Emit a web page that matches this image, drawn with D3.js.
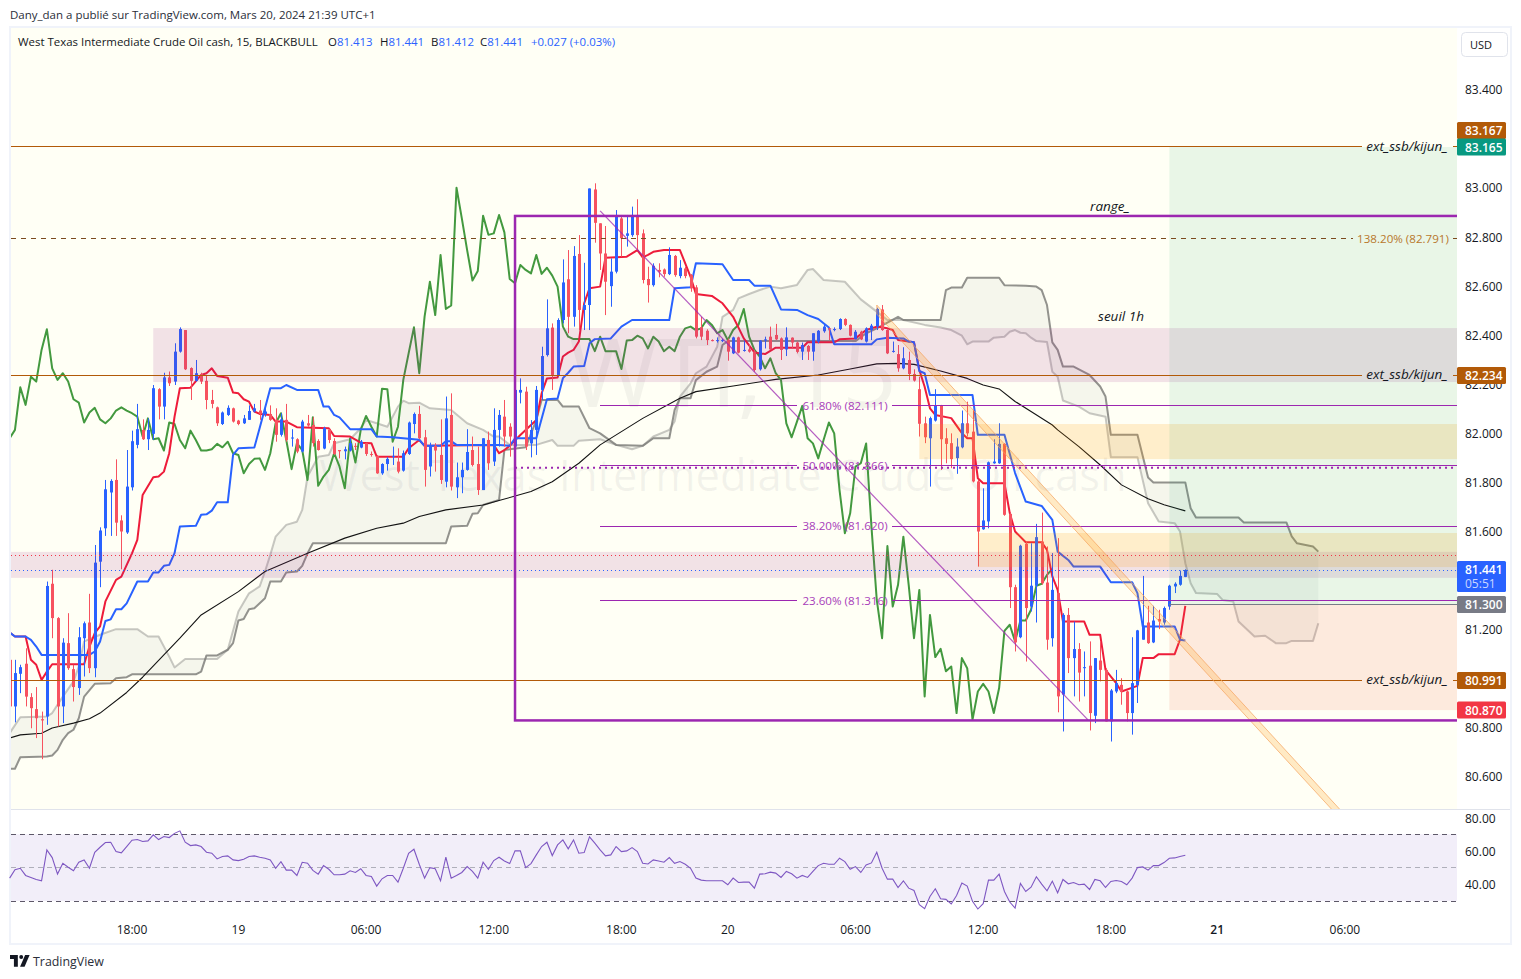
<!DOCTYPE html>
<html>
<head>
<meta charset="utf-8">
<script src="https://cdnjs.cloudflare.com/ajax/libs/d3/7.8.5/d3.min.js"></script>
<style>
  body { margin: 0; background: #fff; }
  text { font-family: "Open Sans", "Noto Sans", sans-serif; }
</style>
</head>
<body>
<div id="chart"></div>
<script>
// candles, one entry per 15 min bar
const opens = [
  81.075,80.885,81.018,81.059,80.923,80.874,80.833,80.844,81.385,81.245,
  80.885,81.143,81.037,80.960,81.163,81.227,81.041,81.475,81.611,81.757,
  81.808,81.643,81.594,81.778,81.951,82.012,81.974,81.996,82.178,82.107,
  82.226,82.209,82.331,82.419,82.264,82.212,82.240,82.212,82.134,82.104,
  82.036,82.073,82.100,82.050,82.039,82.053,82.087,82.091,82.076,82.077,
  82.053,81.992,82.053,81.977,81.974,81.924,82.039,82.032,81.967,81.936,
  82.012,81.967,81.930,81.925,81.928,81.947,81.940,81.958,81.914,81.906,
  81.835,81.873,81.903,81.883,81.846,81.914,82.036,82.077,81.982,81.863,
  81.947,81.910,81.801,82.073,81.778,81.819,81.849,81.930,81.873,81.767,
  81.971,81.883,82.012,82.066,82.025,81.944,82.164,82.168,81.957,82.012,
  82.175,82.317,82.429,82.236,82.460,82.626,82.473,82.729,82.501,82.521,
  82.992,82.854,82.731,82.598,82.657,82.874,82.803,82.806,82.888,82.813,
  82.627,82.602,82.664,82.666,82.647,82.721,82.639,82.670,82.643,82.593,
  82.430,82.416,82.378,82.376,82.376,82.378,82.324,82.389,82.336,82.340,
  82.331,82.259,82.376,82.392,82.399,82.385,82.340,82.388,82.368,82.331,
  82.354,82.331,82.372,82.414,82.426,82.421,82.423,82.464,82.440,82.382,
  82.412,82.372,82.419,82.433,82.503,82.419,82.331,82.321,82.263,82.297,
  82.240,82.178,82.039,81.978,82.050,82.110,81.978,81.958,81.897,81.941,
  82.039,82.005,81.802,81.607,81.639,81.876,81.876,81.955,81.670,81.371,
  81.167,81.548,81.292,81.377,81.557,81.390,81.163,81.347,80.933,81.258,
  81.082,81.119,81.042,81.051,80.847,81.072,81.034,80.824,80.946,80.973,
  80.946,80.858,80.973,81.157,81.227,81.146,81.241,81.227,81.292,81.374,
  81.381,81.413
];
const closes = [
  80.885,81.021,81.045,80.925,80.878,80.837,80.828,81.376,81.245,80.885,
  81.145,81.041,80.964,81.167,81.224,81.041,81.471,81.602,81.770,81.804,
  81.634,81.598,81.781,81.966,82.015,81.974,82.012,82.182,82.107,82.226,
  82.202,82.331,82.423,82.259,82.212,82.243,82.209,82.134,82.118,82.039,
  82.083,82.102,82.046,82.036,82.059,82.089,82.100,82.077,82.087,82.053,
  81.992,82.055,81.971,81.981,81.924,82.046,82.030,81.958,81.930,82.019,
  81.971,81.914,81.925,81.933,81.958,81.943,81.964,81.914,81.910,81.835,
  81.873,81.894,81.906,81.842,81.917,82.042,82.077,81.978,81.849,81.947,
  81.928,81.808,82.059,81.781,81.819,81.849,81.922,81.869,81.767,81.978,
  81.876,82.012,82.073,81.985,81.985,82.175,82.175,81.944,82.012,82.175,
  82.313,82.426,82.236,82.460,82.613,82.473,82.721,82.501,82.521,82.996,
  82.856,82.731,82.616,82.657,82.888,82.793,82.813,82.888,82.806,82.623,
  82.602,82.681,82.657,82.647,82.725,82.643,82.673,82.639,82.589,82.392,
  82.392,82.378,82.376,82.378,82.378,82.331,82.389,82.327,82.338,82.331,
  82.256,82.376,82.381,82.340,82.381,82.338,82.389,82.368,82.330,82.358,
  82.331,82.406,82.416,82.433,82.422,82.423,82.464,82.440,82.396,82.412,
  82.381,82.426,82.437,82.505,82.419,82.324,82.334,82.263,82.304,82.240,
  82.213,82.037,81.982,82.060,82.110,81.974,81.955,81.893,81.944,82.039,
  81.998,81.802,81.598,81.643,81.880,81.883,81.955,81.666,81.371,81.146,
  81.540,81.286,81.377,81.575,81.387,81.157,81.360,80.926,81.258,81.082,
  81.119,81.023,81.045,80.858,81.082,81.034,80.824,80.950,80.980,80.946,
  80.858,80.980,81.195,81.214,81.143,81.235,81.231,81.286,81.377,81.385,
  81.417,81.441
];
const highs = [
  81.116,81.075,81.055,81.122,80.939,80.964,80.864,81.394,81.442,81.249,
  81.163,81.265,81.055,81.208,81.231,81.344,81.543,81.615,81.808,81.811,
  81.892,81.664,81.930,82.009,82.118,82.055,82.059,82.195,82.182,82.245,
  82.250,82.365,82.430,82.419,82.267,82.297,82.245,82.232,82.175,82.107,
  82.087,82.112,82.103,82.053,82.073,82.112,82.118,82.134,82.114,82.112,
  82.100,82.080,82.118,82.015,81.978,82.053,82.073,82.064,81.974,82.025,
  82.017,81.978,81.930,81.944,81.978,81.958,81.971,81.960,81.924,81.910,
  81.876,81.901,81.944,81.937,81.928,82.046,82.083,82.110,82.012,81.960,
  81.958,82.055,82.148,82.161,81.879,81.879,82.015,81.985,81.944,81.978,
  82.005,82.100,82.093,82.134,82.039,82.182,82.222,82.188,82.052,82.191,
  82.351,82.544,82.446,82.467,82.707,82.745,82.761,82.806,82.693,82.996,
  83.017,82.854,82.843,82.711,82.908,82.888,82.888,82.922,82.952,82.829,
  82.677,82.691,82.691,82.670,82.756,82.725,82.704,82.677,82.647,82.602,
  82.473,82.422,82.381,82.389,82.384,82.385,82.392,82.392,82.376,82.358,
  82.338,82.378,82.392,82.433,82.444,82.389,82.430,82.389,82.372,82.368,
  82.358,82.406,82.419,82.440,82.429,82.430,82.467,82.467,82.442,82.419,
  82.416,82.430,82.444,82.510,82.521,82.422,82.372,82.358,82.349,82.331,
  82.259,82.229,82.066,82.066,82.178,82.114,82.019,81.998,81.978,82.091,
  82.127,82.094,81.808,81.774,81.883,81.974,82.039,81.958,81.673,81.381,
  81.544,81.557,81.550,81.629,81.675,81.537,81.510,81.571,81.265,81.286,
  81.231,81.143,81.109,81.150,81.082,81.150,81.041,80.956,81.034,81.000,
  80.950,81.167,81.197,81.417,81.295,81.295,81.279,81.292,81.381,81.391,
  81.439,81.444
];
const lows = [
  80.851,80.820,80.939,80.885,80.796,80.756,80.670,80.810,81.163,80.803,
  80.817,81.034,80.905,80.932,81.007,81.021,81.004,81.371,81.580,81.580,
  81.580,81.444,81.588,81.765,81.937,81.971,81.930,81.971,82.055,82.055,
  82.191,82.195,82.327,82.256,82.134,82.209,82.199,82.096,82.100,82.028,
  82.032,82.069,82.042,82.031,82.036,82.053,82.083,82.053,82.066,82.049,
  81.964,81.985,81.964,81.944,81.917,81.920,82.025,81.944,81.928,81.933,
  81.958,81.910,81.896,81.892,81.924,81.930,81.937,81.906,81.903,81.833,
  81.829,81.846,81.869,81.835,81.842,81.910,81.998,81.974,81.781,81.822,
  81.842,81.792,81.778,81.765,81.734,81.754,81.846,81.863,81.747,81.767,
  81.849,81.865,81.944,81.944,81.903,81.903,82.120,81.930,81.900,81.910,
  82.134,82.311,82.175,82.229,82.446,82.406,82.433,82.419,82.419,82.419,
  82.775,82.664,82.480,82.514,82.650,82.718,82.759,82.799,82.745,82.609,
  82.531,82.596,82.634,82.636,82.643,82.636,82.630,82.630,82.575,82.385,
  82.378,82.358,82.373,82.368,82.370,82.294,82.321,82.324,82.331,82.327,
  82.249,82.254,82.344,82.338,82.378,82.297,82.313,82.344,82.324,82.297,
  82.297,82.294,82.365,82.408,82.378,82.414,82.419,82.435,82.393,82.381,
  82.378,82.368,82.378,82.419,82.416,82.321,82.327,82.249,82.259,82.215,
  82.209,81.985,81.958,81.781,82.046,81.849,81.876,81.856,81.833,81.937,
  81.985,81.798,81.455,81.605,81.611,81.874,81.874,81.662,81.286,81.109,
  81.163,81.068,81.272,81.227,81.381,81.116,81.129,80.861,80.783,81.021,
  80.926,80.905,80.926,80.787,80.817,80.987,80.824,80.742,80.939,80.892,
  80.824,80.770,80.899,81.157,81.140,81.143,81.200,81.218,81.279,81.347,
  81.377,81.412
];

// ichimoku, read at the bars where the line turns: [bar, price]
const kijun = [
  [0,81.186],[1,81.170],[3,81.170],[4,81.156],[5,81.129],[6,81.095],[15,81.095],[16,81.109],[17,81.150],[18,81.233],
  [19,81.240],[20,81.281],[21,81.281],[22,81.305],[24,81.394],[26,81.394],[27,81.431],[28,81.431],[29,81.458],[30,81.462],
  [31,81.510],[32,81.618],[35,81.621],[36,81.666],[37,81.668],[38,81.683],[39,81.717],[41,81.717],[42,81.910],[43,81.937],
  [46,81.940],[47,82.020],[48,82.100],[49,82.182],[51,82.182],[52,82.195],[54,82.175],[58,82.175],[59,82.107],[60,82.107],
  [61,82.073],[62,82.063],[64,82.015],[68,82.015],[69,81.985],[72,81.982],[76,81.974],[77,81.972],[78,81.947],[81,81.947],
  [82,81.966],[83,81.966],[84,81.951],[92,81.950],[94,81.947],[95,81.978],[99,81.978],[101,82.137],[103,82.140],[104,82.223],
  [105,82.245],[106,82.270],[108,82.272],[109,82.365],[110,82.382],[113,82.385],[115,82.433],[117,82.460],[124,82.460],[125,82.589],
  [128,82.593],[129,82.691],[134,82.687],[136,82.623],[139,82.623],[140,82.600],[143,82.600],[145,82.503],[148,82.501],[150,82.480],
  [152,82.464],[154,82.429],[155,82.361],[162,82.361],[163,82.381],[165,82.388],[168,82.385],[169,82.372],[170,82.369],[171,82.252],
  [172,82.243],[173,82.154],[181,82.154],[182,81.992],[187,81.992],[189,81.836],[191,81.720],[194,81.702],[196,81.645],[197,81.516],
  [199,81.482],[200,81.455],[205,81.455],[207,81.391],[211,81.391],[212,81.347],[213,81.211],[219,81.211],[220,81.157],[221,81.154]
];
const tenkan = [
  [0,81.186],[1,81.170],[3,81.170],[4,81.075],[5,81.055],[6,80.993],[7,81.027],[8,81.057],[14,81.057],[15,81.129],
  [16,81.184],[17,81.211],[18,81.313],[20,81.401],[21,81.414],[23,81.509],[24,81.564],[25,81.747],[27,81.819],[28,81.822],
  [29,81.842],[30,81.917],[31,82.066],[32,82.182],[34,82.184],[36,82.236],[37,82.243],[38,82.263],[39,82.232],[41,82.225],
  [42,82.164],[43,82.161],[44,82.137],[45,82.127],[46,82.087],[47,82.077],[49,82.073],[50,82.046],[52,82.046],[54,82.023],
  [60,82.019],[61,81.987],[64,81.985],[66,81.960],[68,81.958],[69,81.903],[74,81.903],[75,81.937],[77,81.971],[78,81.947],
  [91,81.951],[92,81.917],[93,81.930],[94,81.947],[96,81.991],[98,82.032],[99,82.052],[100,82.161],[101,82.222],[103,82.226],
  [104,82.311],[105,82.327],[106,82.338],[107,82.372],[108,82.528],[109,82.589],[111,82.596],[112,82.714],[116,82.718],[118,82.745],
  [119,82.715],[120,82.725],[121,82.738],[123,82.745],[126,82.745],[128,82.636],[129,82.566],[132,82.558],[134,82.528],[136,82.473],
  [138,82.385],[140,82.328],[142,82.321],[144,82.347],[149,82.347],[150,82.369],[155,82.369],[156,82.381],[159,82.385],[161,82.419],
  [163,82.433],[165,82.426],[166,82.419],[167,82.378],[170,82.369],[171,82.256],[172,82.188],[173,82.100],[174,82.073],[177,82.060],
  [179,81.999],[180,81.978],[181,81.978],[182,81.815],[183,81.795],[187,81.795],[188,81.673],[189,81.598],[191,81.554],[194,81.554],
  [195,81.523],[196,81.415],[197,81.360],[198,81.231],[202,81.231],[203,81.177],[205,81.177],[206,81.034],[208,80.980],[209,80.946],
  [212,80.969],[213,81.082],[215,81.082],[216,81.098],[219,81.098],[220,81.157],[221,81.295]
];
const chikou = [
  81.978,82.012,82.186,82.114,82.229,82.209,82.338,82.422,82.263,82.216,
  82.243,82.209,82.137,82.123,82.042,82.083,82.102,82.055,82.039,82.059,
  82.091,82.104,82.091,82.080,82.066,81.985,82.059,81.974,81.978,81.928,
  82.042,82.036,81.971,81.937,82.009,81.971,81.928,81.928,81.933,81.955,
  81.941,81.964,81.917,81.910,81.835,81.873,81.894,81.896,81.849,81.917,
  82.039,82.080,81.971,81.852,81.958,81.930,81.808,82.064,81.784,81.822,
  81.849,81.917,81.863,81.774,81.978,81.879,82.012,82.069,82.025,81.985,
  82.180,82.178,81.964,82.025,82.216,82.324,82.430,82.243,82.474,82.616,
  82.480,82.725,82.505,82.519,82.999,82.874,82.745,82.621,82.660,82.885,
  82.807,82.813,82.888,82.817,82.627,82.610,82.684,82.664,82.650,82.725,
  82.648,82.673,82.641,82.596,82.433,82.392,82.382,82.382,82.382,82.382,
  82.333,82.392,82.333,82.333,82.333,82.260,82.376,82.378,82.396,82.385,
  82.344,82.392,82.372,82.333,82.351,82.333,82.392,82.426,82.433,82.419,
  82.426,82.460,82.440,82.406,82.419,82.378,82.419,82.440,82.505,82.392,
  82.338,82.311,82.263,82.304,82.243,82.215,82.039,81.982,82.046,82.110,
  81.978,81.957,81.896,81.971,82.042,81.998,81.767,81.591,81.672,81.862,
  81.876,81.957,81.618,81.319,81.163,81.539,81.292,81.381,81.577,81.380,
  81.163,81.360,80.926,81.258,81.086,81.120,81.028,81.048,80.858,81.082,
  81.041,80.831,80.946,80.977,80.946,80.858,80.960,81.193,81.218,81.150,
  81.235,81.235,81.279,81.377,81.385,81.421,81.446
];
const senkouA = [
  [0,80.776],[2,80.841],[7,80.844],[8,80.858],[10,80.925],[12,80.987],[13,81.048],[14,81.150],[17,81.177],[20,81.200],
  [24,81.200],[26,81.170],[28,81.170],[30,81.088],[31,81.044],[33,81.078],[39,81.078],[41,81.116],[43,81.272],[45,81.346],
  [47,81.374],[48,81.435],[49,81.503],[50,81.577],[52,81.625],[54,81.638],[55,81.686],[56,81.822],[58,81.903],[60,81.910],
  [61,81.958],[64,81.974],[66,82.019],[67,82.053],[69,82.039],[71,82.025],[73,82.107],[74,82.131],[75,82.121],[77,82.123],
  [79,82.100],[83,82.093],[86,82.039],[89,82.012],[91,81.985],[92,81.985],[94,81.951],[99,81.951],[102,81.971],[103,81.947],
  [106,81.947],[107,81.968],[111,81.974],[114,81.951],[117,81.933],[119,81.947],[121,81.985],[124,82.012],[125,82.046],[126,82.148],
  [128,82.202],[129,82.243],[131,82.270],[133,82.351],[134,82.473],[136,82.501],[137,82.548],[139,82.566],[141,82.582],[143,82.596],
  [145,82.589],[148,82.603],[150,82.664],[151,82.668],[153,82.623],[157,82.616],[160,82.544],[163,82.494],[165,82.460],[168,82.460],
  [172,82.440],[175,82.429],[177,82.419],[179,82.396],[180,82.361],[181,82.372],[184,82.372],[185,82.388],[187,82.392],[188,82.412],
  [189,82.419],[190,82.408],[191,82.406],[192,82.388],[193,82.374],[195,82.370],[196,82.249],[197,82.229],[198,82.132],[201,82.107],
  [203,82.080],[206,82.066],[207,81.901],[212,81.901],[214,81.713],[216,81.639],[219,81.632],[220,81.598],[221,81.469],[222,81.387],
  [223,81.347],[227,81.343],[228,81.319],[230,81.313],[231,81.231],[234,81.170],[236,81.173],[238,81.143],[240,81.143],[241,81.152],
  [245,81.152],[246,81.224]
];
const senkouB = [
  [0,80.631],[1,80.631],[2,80.678],[7,80.681],[8,80.685],[9,80.708],[10,80.749],[11,80.776],[12,80.790],[13,80.837],
  [14,80.925],[16,80.977],[19,80.980],[20,81.000],[22,81.004],[23,81.016],[35,81.016],[36,81.027],[37,81.093],[39,81.093],
  [41,81.116],[42,81.143],[43,81.235],[44,81.241],[45,81.281],[46,81.285],[48,81.326],[49,81.394],[51,81.394],[52,81.431],
  [54,81.435],[55,81.458],[56,81.509],[57,81.550],[82,81.550],[83,81.618],[86,81.621],[87,81.670],[88,81.672],[89,81.706],
  [92,81.727],[93,81.930],[97,81.941],[99,82.052],[100,82.134],[103,82.134],[104,82.107],[107,82.107],[109,82.019],[111,81.998],
  [114,81.951],[119,81.947],[121,81.978],[124,81.978],[125,82.093],[126,82.141],[128,82.141],[129,82.215],[131,82.249],[133,82.270],
  [134,82.358],[135,82.374],[159,82.374],[161,82.406],[163,82.426],[167,82.473],[168,82.460],[175,82.460],[176,82.582],[177,82.592],
  [179,82.592],[180,82.632],[186,82.632],[187,82.602],[191,82.600],[193,82.596],[194,82.582],[195,82.521],[196,82.369],[197,82.338],
  [198,82.270],[200,82.270],[203,82.236],[205,82.189],[206,82.148],[207,81.992],[212,81.992],[214,81.818],[215,81.798],[221,81.798],
  [222,81.693],[223,81.655],[231,81.655],[232,81.635],[240,81.635],[241,81.578],[242,81.550],[245,81.537],[246,81.516]
];
const ma200 = [
  [0,80.756],[2,80.769],[6,80.776],[8,80.797],[12,80.817],[15,80.835],[17,80.858],[22,80.942],[25,81.004],[32,81.163],
  [36,81.258],[43,81.353],[48,81.435],[56,81.509],[63,81.571],[69,81.611],[74,81.632],[77,81.659],[82,81.686],[89,81.706],
  [92,81.724],[98,81.761],[102,81.801],[107,81.876],[111,81.951],[119,82.059],[126,82.141],[129,82.168],[136,82.191],[144,82.218],
  [152,82.236],[158,82.260],[163,82.281],[167,82.283],[170,82.279],[175,82.252],[180,82.222],[183,82.195],[186,82.179],[189,82.128],
  [192,82.087],[196,82.032],[197,82.012],[201,81.944],[205,81.869],[209,81.788],[214,81.731],[217,81.707],[221,81.682]
];

const rsi = [
  43.7,48.7,49.6,45.3,44.1,42.9,42.1,60.6,56.0,46.1,
  52.6,50.2,48.1,53.2,54.6,49.6,59.2,62.2,65.0,65.2,
  59.6,58.8,62.6,66.4,66.8,65.6,66.0,69.6,66.8,68.6,
  68.0,70.5,72.0,65.2,63.2,63.6,62.6,59.2,58.6,55.2,
  56.6,57.0,54.6,54.2,55.0,56.6,57.0,56.2,55.6,54.6,
  49.6,53.6,48.5,48.5,45.3,53.2,52.6,48.3,46.1,51.2,
  49.0,45.7,45.7,46.1,48.1,47.1,49.3,45.3,44.7,38.9,
  43.3,45.3,45.3,41.3,49.6,58.6,61.0,52.0,43.7,50.0,
  49.3,42.1,56.2,43.7,45.3,47.1,50.6,47.7,43.7,53.2,
  49.0,54.2,56.2,54.0,52.4,60.0,60.0,50.0,52.4,57.6,
  62.6,65.2,57.2,63.6,66.6,61.2,66.6,58.6,59.0,68.4,
  64.6,60.6,57.0,57.6,62.6,59.6,60.0,62.0,59.6,52.6,
  52.2,54.6,54.0,53.2,56.0,52.6,53.6,52.0,49.6,43.7,
  42.5,42.1,42.1,42.1,42.1,39.7,43.7,41.1,41.3,41.3,
  37.7,46.1,46.3,47.3,46.7,44.1,47.7,46.3,43.7,45.3,
  44.1,47.7,51.2,52.6,52.0,52.0,55.6,53.6,49.0,50.6,
  47.1,51.6,52.8,59.2,49.6,43.1,43.1,38.1,42.1,37.7,
  36.3,27.8,25.4,32.7,37.3,31.3,31.0,28.2,33.3,40.7,
  38.9,29.8,25.2,28.4,42.5,42.5,46.1,35.7,29.4,25.8,
  40.5,35.7,38.3,44.5,40.1,36.1,41.9,34.9,42.9,40.3,
  41.1,39.7,40.1,36.9,42.9,42.1,38.1,41.7,42.3,41.7,
  39.7,43.7,50.0,50.4,48.5,51.2,51.2,53.0,55.6,55.8,
  56.6,57.4
];

// axis ticks
const priceTicks = [83.4, 83.0, 82.8, 82.6, 82.4, 82.2, 82.0, 81.8, 81.6, 81.2, 80.8, 80.6];
const rsiTicks = [80, 60, 40];
const rsiLevels = [70, 50, 30];
const timeBars = [23, 43, 67, 91, 115, 135, 159, 183, 207, 227, 251];
const timeLabels = ["18:00", "19", "06:00", "12:00", "18:00", "20", "06:00", "12:00", "18:00", "21", "06:00"];

// drawings
const extLevels = [83.167, 82.234, 80.991];
const fibPercent = ["61.80%", "50.00%", "38.20%", "23.60%"];
const fibPrices = [82.111, 81.866, 81.620, 81.316];
const fibStartBar = 111;
const fibExtPercent = "138.20%";
const fibExtPrice = 82.791;
const rangeStartBar = 95;
const rangeTop = 82.884;
const rangeBottom = 80.828;
const rangeMid = 81.858;
const diagLine = [[111, 82.905], [202.7, 80.83]];
const channelUpper = [[163, 82.521], [251, 80.443]];
const channelLower = [[163, 82.484], [251, 80.407]];
const pinkStartBars = [27, 0];
const pinkTops = [82.427, 81.515];
const pinkBottoms = [82.207, 81.409];
const orangeStartBars = [171, 182];
const orangeTops = [82.036, 81.592];
const orangeBottoms = [81.893, 81.453];
const posStartBar = 218;
const posTarget = 83.165;
const posEntry = 81.300;
const posStop = 80.870;
const lastPrice = 81.441;
const prevClose = 81.501;

const width = 1521, height = 979;
const plotL = 11, plotR = 1457, plotT = 28, plotB = 809;

const x = d3.scaleLinear().domain([0.256, 272.07]).range([plotL, plotR]);
const y = d3.scaleLinear().domain([83.650, 80.467]).range([plotT, plotB]);
const yRsi = d3.scaleLinear().domain([80, 30]).range([817.5, 901]);

const svg = d3.select("#chart").append("svg").attr("width", width).attr("height", height)
  .style("display", "block");

svg.append("defs").append("clipPath").attr("id", "plot")
  .append("rect").attr("x", plotL).attr("y", plotT).attr("width", plotR - plotL).attr("height", plotB - plotT);

// frame
svg.append("rect").attr("x", 10).attr("y", 27).attr("width", 1501).attr("height", 917)
  .attr("fill", "#fff").attr("stroke", "#f0f3fa").attr("stroke-width", 2);
svg.append("rect").attr("x", plotL).attr("y", plotT).attr("width", plotR - plotL).attr("height", plotB - plotT)
  .attr("fill", "#fffff5");
svg.append("line").attr("x1", plotL).attr("x2", 1510).attr("y1", plotB + 0.5).attr("y2", plotB + 0.5)
  .attr("stroke", "#e0e3eb");

// header
svg.append("text").attr("x", 10).attr("y", 19).attr("font-size", 11.5).attr("fill", "#2a2e39")
  .text("Dany_dan a publié sur TradingView.com, Mars 20, 2024 21:39 UTC+1");

const plot = svg.append("g").attr("clip-path", "url(#plot)");

// watermark
plot.append("text").attr("x", 733).attr("y", 407).attr("text-anchor", "middle")
  .attr("font-size", 96).attr("fill", "#787b86").attr("fill-opacity", 0.09).text("WTI, 15");
plot.append("text").attr("x", 723).attr("y", 491).attr("text-anchor", "middle")
  .attr("font-size", 43.5).attr("fill", "#787b86").attr("fill-opacity", 0.09)
  .text("West Texas Intermediate Crude Oil cash");

const lineXY = d3.line().x(d => x(d[0])).y(d => y(d[1]));

// cloud between the two senkou spans
plot.append("path")
  .attr("d", lineXY(senkouA.concat(senkouB.slice().reverse())) + "Z")
  .attr("fill", "#787b86").attr("fill-opacity", 0.07);

const drawLine = (data, color, w, opacity) => plot.append("path")
  .attr("d", lineXY(data)).attr("fill", "none").attr("stroke", color)
  .attr("stroke-width", w).attr("stroke-opacity", opacity).attr("stroke-linejoin", "round");

drawLine(senkouA, "#9b9b98", 2, 0.55);
drawLine(senkouB, "#787874", 2, 0.8);
drawLine(ma200, "#131313", 1.1, 1);
drawLine(chikou.map((v, i) => [i, v]), "#43993f", 2, 1);
drawLine(tenkan, "#ee1c3a", 2, 1);
drawLine(kijun, "#2962ff", 2, 1);

// candles
const candles = d3.range(opens.length);
const candleColor = i => closes[i] >= opens[i] ? "#2962ff" : "#f7525f";
plot.selectAll("line.wick").data(candles).enter().append("line").attr("class", "wick")
  .attr("x1", i => Math.round(x(i)) + 0.5).attr("x2", i => Math.round(x(i)) + 0.5)
  .attr("y1", i => y(highs[i])).attr("y2", i => y(lows[i]))
  .attr("stroke", candleColor);
plot.selectAll("rect.body").data(candles).enter().append("rect").attr("class", "body")
  .attr("x", i => Math.round(x(i)) - 1).attr("width", 3)
  .attr("y", i => y(Math.max(opens[i], closes[i])))
  .attr("height", i => Math.max(1, y(Math.min(opens[i], closes[i])) - y(Math.max(opens[i], closes[i]))))
  .attr("fill", candleColor);

// zones
const pinkZones = d3.range(pinkTops.length);
plot.selectAll("rect.pink").data(pinkZones).enter().append("rect").attr("class", "pink")
  .attr("x", i => x(pinkStartBars[i])).attr("width", i => plotR - x(pinkStartBars[i]))
  .attr("y", i => y(pinkTops[i])).attr("height", i => y(pinkBottoms[i]) - y(pinkTops[i]))
  .attr("fill", "#9c2080").attr("fill-opacity", 0.13);
const orangeZones = d3.range(orangeTops.length);
plot.selectAll("rect.orange").data(orangeZones).enter().append("rect").attr("class", "orange")
  .attr("x", i => x(orangeStartBars[i])).attr("width", i => plotR - x(orangeStartBars[i]))
  .attr("y", i => y(orangeTops[i])).attr("height", i => y(orangeBottoms[i]) - y(orangeTops[i]))
  .attr("fill", "#ff9800").attr("fill-opacity", 0.17);

// long position tool
plot.append("rect").attr("x", x(posStartBar)).attr("width", plotR - x(posStartBar))
  .attr("y", y(posTarget)).attr("height", y(posEntry) - y(posTarget))
  .attr("fill", "#089960").attr("fill-opacity", 0.09);
plot.append("rect").attr("x", x(posStartBar)).attr("width", plotR - x(posStartBar))
  .attr("y", y(posEntry)).attr("height", y(posStop) - y(posEntry))
  .attr("fill", "#f05d3c").attr("fill-opacity", 0.13);

// straight levels, kept sharp
const level = plot.append("g").attr("shape-rendering", "crispEdges");
level.append("line").attr("x1", x(posStartBar)).attr("x2", plotR).attr("y1", y(posEntry)).attr("y2", y(posEntry))
  .attr("stroke", "#787b86");

// dotted price lines
level.append("line").attr("x1", plotL).attr("x2", plotR).attr("y1", y(prevClose)).attr("y2", y(prevClose))
  .attr("stroke", "#f23645").attr("stroke-dasharray", "1 3");
level.append("line").attr("x1", plotL).attr("x2", plotR).attr("y1", y(lastPrice)).attr("y2", y(lastPrice))
  .attr("stroke", "#2962ff").attr("stroke-dasharray", "1 3");

// orange channel
plot.append("path").attr("d", lineXY(channelUpper.concat(channelLower.slice().reverse())) + "Z")
  .attr("fill", "#ff9800").attr("fill-opacity", 0.2).attr("stroke", "#f5a35c").attr("stroke-opacity", 0.7);

// diagonal
plot.append("path").attr("d", lineXY(diagLine)).attr("fill", "none")
  .attr("stroke", "#9c27b0").attr("stroke-opacity", 0.75).attr("stroke-width", 1.2);

// range box
plot.append("rect").attr("x", x(rangeStartBar)).attr("y", y(rangeTop))
  .attr("width", plotR - x(rangeStartBar) + 5).attr("height", y(rangeBottom) - y(rangeTop))
  .attr("fill", "none").attr("stroke", "#9c27b0").attr("stroke-width", 2.5);
plot.append("line").attr("x1", x(rangeStartBar)).attr("x2", plotR).attr("y1", y(rangeMid)).attr("y2", y(rangeMid))
  .attr("stroke", "#9c27b0").attr("stroke-width", 2).attr("stroke-dasharray", "2 4");

// fib levels
fibPrices.forEach((p, i) => {
  const yy = y(p);
  level.append("line").attr("x1", x(fibStartBar)).attr("x2", 797).attr("y1", yy).attr("y2", yy)
    .attr("stroke", "#9c27b0");
  level.append("line").attr("x1", 892).attr("x2", plotR).attr("y1", yy).attr("y2", yy)
    .attr("stroke", "#9c27b0");
  plot.append("text").attr("x", 845).attr("y", yy + 4).attr("text-anchor", "middle")
    .attr("font-size", 11.6).attr("fill", "#a83dba")
    .text(`${fibPercent[i]} (${p.toFixed(3)})`);
});
const extY = y(fibExtPrice);
level.append("line").attr("x1", plotL).attr("x2", 1353).attr("y1", extY).attr("y2", extY)
  .attr("stroke", "#7a4a1e").attr("stroke-dasharray", "5 5");
level.append("line").attr("x1", 1453).attr("x2", plotR).attr("y1", extY).attr("y2", extY)
  .attr("stroke", "#7a4a1e");
plot.append("text").attr("x", 1403).attr("y", extY + 4).attr("text-anchor", "middle")
  .attr("font-size", 11.6).attr("fill", "#b8782c")
  .text(`${fibExtPercent} (${fibExtPrice.toFixed(3)})`);

// ext_ssb/kijun_ lines
extLevels.forEach(p => {
  const yy = y(p);
  level.append("line").attr("x1", plotL).attr("x2", 1362).attr("y1", yy).attr("y2", yy)
    .attr("stroke", "#b25a08");
  level.append("line").attr("x1", 1453).attr("x2", plotR).attr("y1", yy).attr("y2", yy)
    .attr("stroke", "#b25a08");
  plot.append("text").attr("x", 1407).attr("y", yy + 4).attr("text-anchor", "middle")
    .attr("font-size", 13.5).attr("font-style", "italic").attr("fill", "#131722").text("ext_ssb/kijun_");
});
plot.append("text").attr("x", 1110).attr("y", 211).attr("text-anchor", "middle")
  .attr("font-size", 13.5).attr("font-style", "italic").attr("fill", "#131722").text("range_");
plot.append("text").attr("x", 1121).attr("y", 321).attr("text-anchor", "middle")
  .attr("font-size", 13.5).attr("font-style", "italic").attr("fill", "#131722").text("seuil 1h");

// legend
const legend = svg.append("text").attr("x", 18).attr("y", 46).attr("font-size", 11.45).attr("fill", "#131722");
legend.append("tspan").text("West Texas Intermediate Crude Oil cash, 15, BLACKBULL");
[["O", "81.413", 328], ["H", "81.441", 380], ["B", "81.412", 431], ["C", "81.441", 480]].forEach(([k, v, px]) => {
  legend.append("tspan").attr("x", px).text(k);
  legend.append("tspan").attr("fill", "#2962ff").text(v);
});
legend.append("tspan").attr("x", 531).attr("fill", "#2962ff").text("+0.027 (+0.03%)");

// price axis
svg.selectAll("text.tick").data(priceTicks).enter().append("text").attr("class", "tick")
  .attr("x", 1465).attr("y", d => y(d) + 5).attr("font-size", 12).attr("fill", "#131722")
  .text(d => d.toFixed(3));

svg.append("rect").attr("x", 1461.5).attr("y", 32.5).attr("width", 46).attr("height", 24).attr("rx", 4)
  .attr("fill", "#fff").attr("stroke", "#e0e3eb");
svg.append("text").attr("x", 1481).attr("y", 49).attr("text-anchor", "middle")
  .attr("font-size", 11).attr("fill", "#131722").text("USD");

// price badges
const badgePrices = ["83.167", "83.165", "82.234", "81.300", "80.991", "80.870"];
const badgeSpots = [83.232, 83.165, 82.234, 81.300, 80.991, 80.870];
const badgeColors = ["#b25a08", "#089981", "#b25a08", "#787b86", "#b25a08", "#f23645"];
badgePrices.forEach((label, i) => {
  const yy = y(badgeSpots[i]);
  svg.append("rect").attr("x", plotR).attr("y", yy - 8.5).attr("width", 49).attr("height", 17).attr("rx", 1.5)
    .attr("fill", badgeColors[i]);
  svg.append("text").attr("x", 1465).attr("y", yy + 4.5).attr("font-size", 12).attr("font-weight", 600)
    .attr("fill", "#fff").text(label);
});
svg.append("rect").attr("x", plotR).attr("y", 561).attr("width", 49).attr("height", 31).attr("rx", 1.5)
  .attr("fill", "#2962ff");
svg.append("text").attr("x", 1465).attr("y", 574).attr("font-size", 12).attr("font-weight", 600)
  .attr("fill", "#fff").text(lastPrice.toFixed(3));
svg.append("text").attr("x", 1465).attr("y", 588).attr("font-size", 12)
  .attr("fill", "#fff").attr("fill-opacity", 0.75).text("05:51");

// rsi pane
svg.append("rect").attr("x", plotL).attr("width", plotR - plotL)
  .attr("y", yRsi(70)).attr("height", yRsi(30) - yRsi(70))
  .attr("fill", "#7e57c2").attr("fill-opacity", 0.1);
rsiLevels.forEach((v, i) => {
  svg.append("line").attr("x1", plotL).attr("x2", plotR).attr("y1", yRsi(v)).attr("y2", yRsi(v))
    .attr("shape-rendering", "crispEdges")
    .attr("stroke", i === 1 ? "#787b86" : "#5d5868").attr("stroke-opacity", i === 1 ? 0.55 : 1)
    .attr("stroke-dasharray", "5 4");
});
svg.append("path")
  .attr("d", d3.line().x((d, i) => x(i)).y(d => yRsi(d))(rsi))
  .attr("fill", "none").attr("stroke", "#7e57c2").attr("stroke-width", 1.1);
svg.selectAll("text.rsi").data(rsiTicks).enter().append("text").attr("class", "rsi")
  .attr("x", 1465).attr("y", d => yRsi(d) + 5).attr("font-size", 12).attr("fill", "#131722")
  .text(d => d.toFixed(2));

// time axis
svg.selectAll("text.time").data(timeBars).enter().append("text").attr("class", "time")
  .attr("x", d => x(d)).attr("y", 934).attr("text-anchor", "middle").attr("font-size", 12)
  .attr("fill", "#131722").attr("font-weight", (d, i) => timeLabels[i] === "21" ? 600 : 400)
  .text((d, i) => timeLabels[i]);

// logo
const logo = svg.append("g").attr("transform", "translate(10,955) scale(0.56)").attr("fill", "#131722");
logo.append("path").attr("d", "M14 0H0v7h7v14h7V0z");
logo.append("circle").attr("cx", 20).attr("cy", 3.5).attr("r", 3.5);
logo.append("path").attr("d", "M27 0h8l-9 21h-8z");
svg.append("text").attr("x", 33).attr("y", 966).attr("font-size", 12.4).attr("fill", "#2a2e39").text("TradingView");
</script>
</body>
</html>
